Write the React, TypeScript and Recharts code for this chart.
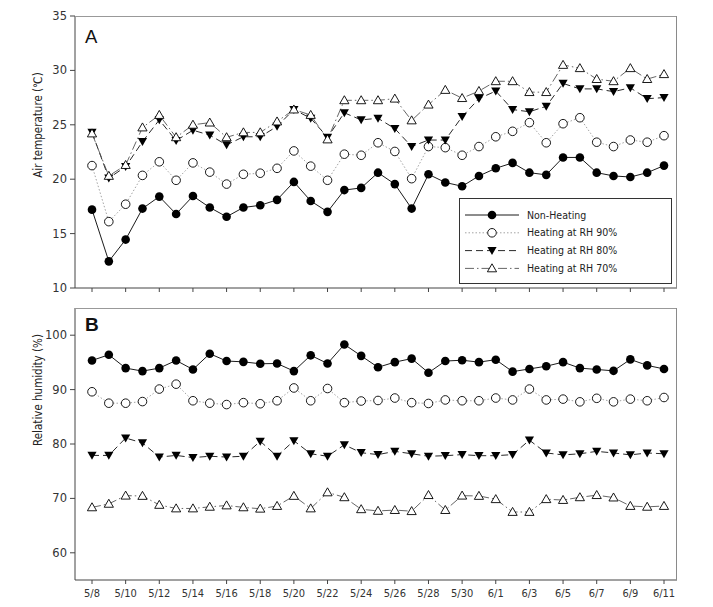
import { LineChart, Line, XAxis, YAxis } from "recharts";

const dates = [
  "5/8", "5/9", "5/10", "5/11", "5/12", "5/13", "5/14", "5/15", "5/16", "5/17", "5/18", "5/19",
  "5/20", "5/21", "5/22", "5/23", "5/24", "5/25", "5/26", "5/27", "5/28", "5/29", "5/30", "5/31",
  "6/1", "6/2", "6/3", "6/4", "6/5", "6/6", "6/7", "6/8", "6/9", "6/10", "6/11",
];

// air temperature (℃)
const tempNon = [17.2, 12.45, 14.45, 17.3, 18.4, 16.8, 18.45, 17.4, 16.55, 17.4, 17.6, 18.1, 19.75, 18.0, 17.0, 19.0, 19.2, 20.6, 19.55, 17.3, 20.45, 19.7, 19.35, 20.3, 21.0, 21.5, 20.6, 20.4, 22.0, 22.0, 20.6, 20.3, 20.2, 20.6, 21.25];
const temp90 = [21.25, 16.1, 17.7, 20.35, 21.6, 19.9, 21.5, 20.65, 19.55, 20.45, 20.55, 21.0, 22.6, 21.2, 19.9, 22.3, 22.2, 23.35, 22.55, 20.05, 23.0, 22.9, 22.2, 23.0, 23.9, 24.4, 25.2, 23.35, 25.1, 25.65, 23.4, 23.0, 23.6, 23.4, 24.0];
const temp80 = [24.3, 20.1, 21.15, 23.45, 25.45, 23.55, 24.5, 24.05, 23.15, 23.9, 23.9, 24.85, 26.4, 25.6, 23.85, 26.1, 25.45, 25.6, 24.65, 23.0, 23.6, 23.6, 25.75, 27.4, 28.1, 26.4, 26.2, 26.7, 28.8, 28.3, 28.3, 28.05, 28.4, 27.4, 27.5];
const temp70 = [24.2, 20.3, 21.3, 24.75, 25.9, 23.85, 25.0, 25.2, 23.85, 24.3, 24.3, 25.3, 26.4, 25.9, 23.65, 27.25, 27.25, 27.25, 27.4, 25.4, 26.85, 28.2, 27.45, 28.1, 29.0, 29.0, 28.0, 28.0, 30.5, 30.2, 29.2, 29.0, 30.2, 29.2, 29.65];

// relative humidity (%)
const rhNon = [95.36, 96.4, 93.95, 93.4, 93.95, 95.36, 93.7, 96.6, 95.25, 95.1, 94.75, 94.8, 93.4, 96.3, 94.8, 98.3, 96.2, 94.1, 95.05, 95.7, 93.1, 95.25, 95.4, 95.05, 95.5, 93.3, 93.8, 94.3, 95.05, 93.95, 93.7, 93.45, 95.55, 94.45, 93.8];
const rh90 = [89.6, 87.5, 87.5, 87.8, 90.1, 91.0, 87.95, 87.5, 87.25, 87.6, 87.4, 87.95, 90.3, 87.95, 90.2, 87.6, 87.9, 88.0, 88.45, 87.6, 87.45, 88.1, 87.95, 87.95, 88.45, 88.1, 90.1, 88.1, 88.25, 87.75, 88.4, 87.75, 88.25, 87.95, 88.55];
const rh80 = [77.9, 77.9, 81.1, 80.2, 77.6, 77.9, 77.5, 77.75, 77.6, 77.75, 80.5, 77.75, 80.6, 78.2, 77.75, 79.85, 78.4, 78.05, 78.65, 78.2, 77.75, 77.85, 78.05, 77.85, 77.85, 78.05, 80.7, 78.35, 78.0, 78.2, 78.65, 78.35, 78.0, 78.35, 78.2];
const rh70 = [68.35, 69.0, 70.5, 70.45, 68.8, 68.15, 68.15, 68.45, 68.7, 68.35, 68.1, 68.6, 70.45, 68.15, 71.1, 70.2, 68.0, 67.7, 67.85, 67.65, 70.6, 67.85, 70.5, 70.45, 69.85, 67.5, 67.5, 69.85, 69.7, 70.2, 70.6, 70.15, 68.6, 68.45, 68.6];

const tempTicks = [10, 15, 20, 25, 30, 35];
const rhTicks = [60, 70, 80, 90, 100];
const legendNames = ["Non-Heating", "Heating at RH 90%", "Heating at RH 80%", "Heating at RH 70%"];

const tempData = dates.map((d, i) => ({ date: d, non: tempNon[i], h90: temp90[i], h80: temp80[i], h70: temp70[i] }));
const rhData = dates.map((d, i) => ({ date: d, non: rhNon[i], h90: rh90[i], h80: rh80[i], h70: rh70[i] }));

const AXIS = "#444";
const TICK_FONT = { fontSize: 11.5, fontFamily: "DejaVu Sans", fill: "#333" };

type Kind = "fcircle" | "ocircle" | "ftri" | "otri";

function marker(kind: Kind, cx: number, cy: number, key?: any) {
  if (kind === "fcircle") return <circle key={key} cx={cx} cy={cy} r={4.3} fill="#000" />;
  if (kind === "ocircle") return <circle key={key} cx={cx} cy={cy} r={4.3} fill="#fff" stroke="#000" strokeWidth={0.9} />;
  if (kind === "ftri")
    return <polygon key={key} points={`${cx - 4.6},${cy - 3.6} ${cx + 4.6},${cy - 3.6} ${cx},${cy + 4.4}`} fill="#000" />;
  return (
    <polygon key={key} points={`${cx},${cy - 4.6} ${cx + 4.6},${cy + 3.4} ${cx - 4.6},${cy + 3.4}`} fill="#fff" stroke="#000" strokeWidth={0.9} />
  );
}

const dotFn = (kind: Kind) => (p: any) => marker(kind, p.cx, p.cy, `${kind}-${p.index}`);

const series = [
  { key: "non", kind: "fcircle" as Kind, stroke: "#000", dash: undefined as string | undefined },
  { key: "h90", kind: "ocircle" as Kind, stroke: "#999", dash: "1.5 2" },
  { key: "h80", kind: "ftri" as Kind, stroke: "#111", dash: "7 4" },
  { key: "h70", kind: "otri" as Kind, stroke: "#555", dash: "9 3 1.5 3" },
];

function renderLines() {
  return series.map((s) => (
    <Line
      key={s.key}
      dataKey={s.key}
      stroke={s.stroke}
      strokeWidth={0.9}
      strokeDasharray={s.dash}
      dot={dotFn(s.kind)}
      activeDot={false}
      isAnimationActive={false}
    />
  ));
}

function Frame({ top, bottom }: { top: number; bottom: number }) {
  return (
    <>
      <div style={{ position: "absolute", left: 75, top, width: 602, height: 0, borderTop: "1px solid #999" }} />
      <div style={{ position: "absolute", left: 676, top, width: 0, height: bottom - top, borderLeft: "1.5px solid #8a8a8a" }} />
    </>
  );
}

export default function App() {
  return (
    <div style={{ position: "absolute", left: 0, top: 0, width: 713, height: 607, background: "#fff" }}>
      <div style={{ position: "absolute", left: 0, top: 0 }}>
        <LineChart width={713} height={300} data={tempData} margin={{ top: 16, right: 36, bottom: 0, left: 0 }}>
          <XAxis
            dataKey="date"
            interval={1}
            padding={{ left: 17, right: 13 }}
            height={12}
            tickFormatter={() => ""}
            tickSize={4}
            stroke={AXIS}
          />
          <YAxis
            domain={[10, 35]}
            ticks={tempTicks}
            width={75}
            tickSize={5}
            tickMargin={3}
            stroke={AXIS}
            tick={TICK_FONT}
          />
          {renderLines()}
        </LineChart>
      </div>
      <div style={{ position: "absolute", left: 0, top: 300 }}>
        <LineChart width={713} height={307} data={rhData} margin={{ top: 8, right: 36, bottom: 0, left: 0 }}>
          <XAxis
            dataKey="date"
            interval={1}
            padding={{ left: 17, right: 13 }}
            height={27}
            tickSize={4}
            tickMargin={5}
            stroke={AXIS}
            tick={{ ...TICK_FONT, fontSize: 11, fontFamily: "DejaVu Sans Condensed, DejaVu Sans" }}
          />
          <YAxis
            domain={[55, 105]}
            ticks={rhTicks}
            width={75}
            tickSize={5}
            tickMargin={3}
            stroke={AXIS}
            tick={TICK_FONT}
          />
          {renderLines()}
        </LineChart>
      </div>

      <Frame top={16} bottom={288} />
      <Frame top={308} bottom={580} />

      <svg width={713} height={607} style={{ position: "absolute", left: 0, top: 0, pointerEvents: "none" }}>
        <text x={85} y={43} fontFamily="Liberation Sans, Arial" fontSize={18.5} fill="#111">A</text>
        <text x={85} y={331} fontFamily="Liberation Sans, Arial" fontSize={19} fontWeight="bold" fill="#111">B</text>
        <text
          transform="translate(42,125) rotate(-90)"
          textAnchor="middle"
          fontFamily="DejaVu Sans Condensed, DejaVu Sans"
          fontSize={11.5}
          fill="#222"
        >
          Air temperature (℃)
        </text>
        <text
          transform="translate(42,390) rotate(-90)"
          textAnchor="middle"
          fontFamily="DejaVu Sans Condensed, DejaVu Sans"
          fontSize={11.5}
          fill="#222"
        >
          Relative humidity (%)
        </text>

        <rect x={459.5} y={198.5} width={212} height={85} fill="#fff" stroke="#333" strokeWidth={1} />
        {series.map((s, i) => {
          const y = 215 + i * 17.8;
          return (
            <g key={s.key}>
              <line x1={465} x2={519} y1={y} y2={y} stroke={s.stroke} strokeWidth={0.9} strokeDasharray={s.dash} />
              {marker(s.kind, 492, y)}
              <text x={527} y={y + 3.5} fontFamily="Liberation Sans Narrow, DejaVu Sans Condensed" fontSize={10.5} fill="#222">
                {legendNames[i]}
              </text>
            </g>
          );
        })}
      </svg>
    </div>
  );
}
